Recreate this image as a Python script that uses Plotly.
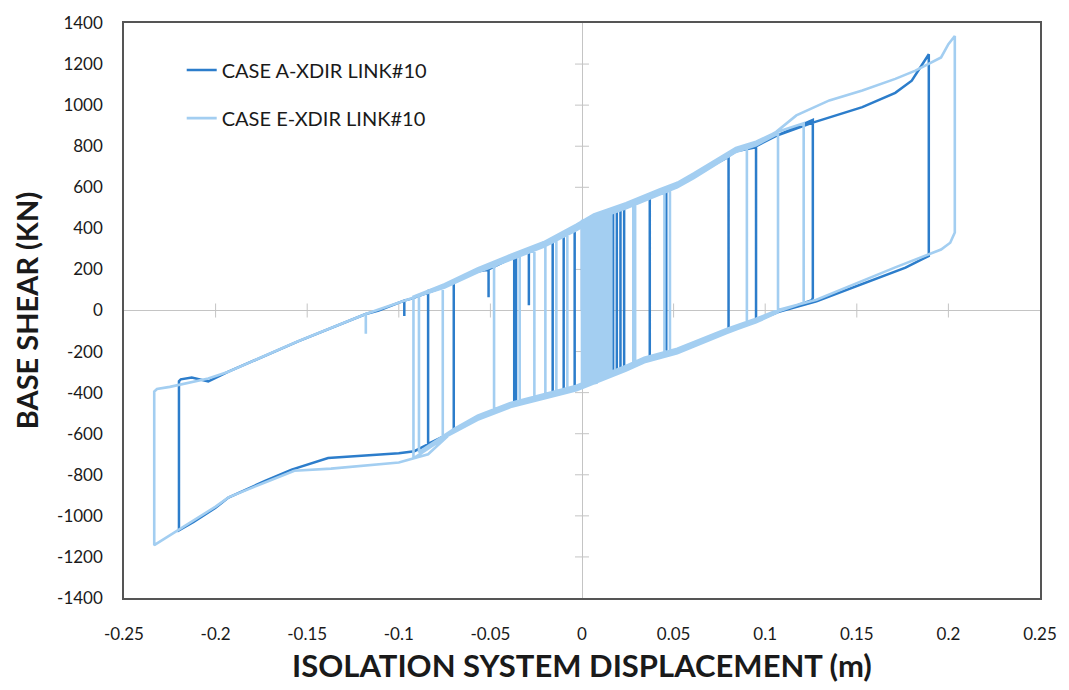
import plotly.graph_objects as go

# ---------------------------------------------------------------
# Hysteresis loops of isolator LINK#10, X direction
# displacement in m, base shear in kN, vertices in time order
# ---------------------------------------------------------------

CASE_A_NAME = "CASE A-XDIR LINK#10"
CASE_E_NAME = "CASE E-XDIR LINK#10"

case_a_disp = [
    0.000, 0.000,
    0.0065, 0.017, 0.017,
    -0.003, -0.004, -0.004,
    0.0065, 0.023, 0.023,
    -0.003, -0.010, -0.010,
    -0.003, 0.0065, 0.024, 0.037, 0.037,
    0.034, 0.024, -0.003, -0.016, -0.016,
    -0.003, 0.0065, 0.024, 0.042, 0.046, 0.046,
    0.034, 0.024, -0.003, -0.037, -0.037,
    -0.029, -0.029, -0.029, -0.021, -0.003, 0.0065, 0.024, 0.042, 0.052, 0.061, 0.073, 0.080, 0.080,
    0.052, 0.034, 0.024, -0.003, -0.039, -0.057, -0.070, -0.070,
    -0.057, -0.051, -0.051, -0.051, -0.039, -0.021, -0.003, 0.0065, 0.024, 0.042, 0.052, 0.061, 0.073,
    0.084, 0.095, 0.106, 0.126, 0.126, 0.1255,
    0.107, 0.095, 0.079, 0.052, 0.034, 0.024, -0.003, -0.039, -0.057, -0.070, -0.0915, -0.100, -0.1386,
    -0.1585, -0.173, -0.193, -0.200, -0.212, -0.220,
    -0.220, -0.219,
    -0.213, -0.204, -0.193, -0.173, -0.155, -0.118, -0.111, -0.097, -0.097, -0.097, -0.093, -0.075,
    -0.057, -0.039, -0.021, -0.003, 0.0065, 0.024, 0.042, 0.052, 0.061, 0.073, 0.084, 0.095, 0.106,
    0.126, 0.153, 0.171, 0.180, 0.1893,
    0.1893, 0.1855,
    0.1766, 0.128, 0.107, 0.095, 0.079, 0.052, 0.034, 0.024, -0.003, -0.039, -0.057, -0.070, -0.084,
    -0.084,
    -0.075, -0.057, -0.039, -0.021, -0.003, 0.0065, 0.024, 0.042, 0.052, 0.061, 0.073, 0.084, 0.095,
    0.095,
    0.079, 0.052, 0.034, 0.024, -0.003, -0.036, -0.036,
    -0.021, -0.003, 0.0065, 0.019, 0.021, 0.021,
    0.019, 0.0015, 0.0015,
    0.0065, 0.019, 0.019,
    0.003, 0.003,
]

case_a_shear = [
    0, 410,
    448, 485, -305,
    -378, -382, 395,
    450, 502, -287,
    -380, -395, 365,
    400, 450, 505, 552, -238,
    -245, -283, -380, -412, 338,
    400, 450, 505, 570, 584, -215,
    -245, -283, -380, -458, 258,
    288, 25, 288, 316, 400, 450, 505, 570, 605, 650, 715, 748, -98,
    -200, -245, -283, -380, -462, -525, -588, 142,
    190, 200, 65, 200, 253, 316, 400, 450, 505, 570, 605, 650, 715,
    775, 800, 850, 928, 62, 50,
    -8, -51, -100, -200, -245, -283, -380, -462, -525, -588, -685, -695, -718,
    -775, -830, -911, -960, -1030, -1071,
    -345, -335,
    -326, -345, -298, -220, -150, -17, 0, 48, -27, 48, 58, 117,
    190, 253, 316, 400, 450, 505, 570, 605, 650, 715, 775, 800, 850,
    915, 990, 1060, 1119, 1248,
    265, 249,
    209, 45, -8, -51, -100, -200, -245, -283, -380, -462, -525, -588, -650,
    95,
    117, 190, 253, 316, 400, 450, 505, 570, 605, 650, 715, 775, 795,
    -51,
    -100, -200, -245, -283, -380, -455, 262,
    316, 400, 450, 492, 498, -292,
    -298, -365, 430,
    450, 490, -298,
    -362, -40,
]

case_e_disp = [
    0.000, 0.000,
    0.0065, 0.008, 0.008,
    -0.003, -0.014, -0.014,
    -0.003, 0.0065, 0.015, 0.015,
    -0.003, -0.020, -0.020,
    -0.003, 0.0065, 0.024, 0.029, 0.029,
    0.024, -0.003, -0.026, -0.026,
    -0.021, -0.003, 0.0065, 0.024, 0.042, 0.045, 0.045,
    0.034, 0.024, -0.003, -0.039, -0.048, -0.048,
    -0.039, -0.021, -0.003, 0.0065, 0.024, 0.042, 0.052, 0.061, 0.073, 0.084, 0.090, 0.090,
    0.079, 0.052, 0.034, 0.024, -0.003, -0.039, -0.057, -0.070, -0.076, -0.076,
    -0.057, -0.039, -0.021, -0.003, 0.0065, 0.024, 0.042, 0.052, 0.061, 0.073, 0.084, 0.095, 0.107, 0.107,
    0.095, 0.079, 0.052, 0.034, 0.024, -0.003, -0.039, -0.057, -0.070, -0.092, -0.092,
    -0.075, -0.057, -0.039, -0.021, -0.003, 0.0065, 0.024, 0.042, 0.052, 0.061, 0.073, 0.084, 0.095,
    0.106, 0.121, 0.121,
    0.107, 0.095, 0.079, 0.052, 0.034, 0.024, -0.003, -0.039, -0.057, -0.070, -0.084, -0.100, -0.137,
    -0.157, -0.171, -0.193, -0.200, -0.220, -0.2335,
    -0.2335, -0.232,
    -0.225, -0.204, -0.193, -0.173, -0.155, -0.118, -0.118, -0.118, -0.111, -0.093, -0.075, -0.057,
    -0.039, -0.021, -0.003, 0.0065, 0.024, 0.042, 0.052, 0.061, 0.073, 0.084, 0.095, 0.106, 0.117,
    0.135, 0.153, 0.171, 0.182, 0.189, 0.196, 0.200, 0.2035,
    0.2035, 0.201, 0.196,
    0.171, 0.128, 0.107, 0.095, 0.079, 0.052, 0.034, 0.024, -0.003, -0.039, -0.057, -0.070, -0.089,
    -0.089,
    -0.075, -0.057, -0.039, -0.021, -0.003, 0.0065, 0.024, 0.042, 0.048, 0.048,
    0.034, 0.024, -0.003, -0.034, -0.034,
    -0.021, -0.003, 0.0065, 0.024, 0.028, 0.028,
    0.024, -0.003, -0.008, -0.008,
    -0.003, 0.0065, 0.016, 0.016,
    0.000, 0.000,
    0.015, 0.015,
    0.001, 0.001,
    0.014, 0.014,
    0.002, 0.002,
    0.013, 0.013,
    0.003, 0.003,
    0.012, 0.012,
    0.004, 0.004,
    0.011, 0.011,
    0.005, 0.005,
    0.010, 0.010,
    0.006, 0.006,
    0.009, 0.009,
    0.007, 0.007,
    0.008, 0.008,
]

case_e_shear = [
    0, 405,
    455, 460, -352,
    -375, -402, 352,
    410, 458, 482, -318,
    -384, -420, 325,
    395, 445, 510, 525, -262,
    -280, -376, -430, 300,
    322, 405, 455, 510, 575, 585, -218,
    -240, -280, -375, -458, -495, 212,
    268, 332, 418, 468, 522, 588, 622, 668, 732, 792, 807, -72,
    -110, -208, -252, -292, -388, -470, -532, -595, -622, 115,
    195, 252, 312, 396, 446, 500, 565, 600, 645, 712, 772, 805, 862, -8,
    -58, -108, -205, -250, -290, -385, -468, -528, -590, -720, 68,
    128, 205, 270, 332, 418, 468, 522, 588, 622, 668, 732, 792, 822,
    868, 912, 38,
    -5, -48, -98, -195, -240, -280, -375, -458, -520, -585, -700, -740, -770,
    -780, -830, -910, -955, -1066, -1143,
    -395, -382,
    -372, -331, -298, -220, -150, -17, -113, -17, 5, 60, 120, 195,
    258, 320, 405, 455, 510, 575, 610, 655, 720, 780, 815, 870, 950,
    1023, 1071, 1128, 1168, 1200, 1232, 1297, 1337,
    380, 330, 297,
    210, 52, 2, -40, -90, -186, -230, -270, -366, -450, -512, -578, -690,
    72,
    112, 186, 248, 310, 392, 442, 498, 562, 585, -205,
    -232, -272, -368, -440, 275,
    330, 414, 464, 518, 528, -262,
    -274, -368, -384, 392,
    412, 462, 490, -312,
    -366, 436,
    486, -316,
    -362, 440,
    482, -321,
    -358, 444,
    478, -326,
    -354, 447,
    475, -330,
    -350, 451,
    471, -334,
    -347, 455,
    467, -338,
    -343, 458,
    463, -341,
    -340, 460,
    462, 0,
]

assert len(case_a_disp) == len(case_a_shear)
assert len(case_e_disp) == len(case_e_shear)

X_TICKS = [-0.25, -0.2, -0.15, -0.1, -0.05, 0, 0.05, 0.1, 0.15, 0.2, 0.25]
X_TICK_TEXT = ["-0.25", "-0.2", "-0.15", "-0.1", "-0.05", "0", "0.05", "0.1", "0.15", "0.2", "0.25"]
Y_TICKS = [-1400, -1200, -1000, -800, -600, -400, -200, 0, 200, 400, 600, 800, 1000, 1200, 1400]
Y_TICK_TEXT = [str(v) for v in Y_TICKS]

COLOR_A = "#2C7DCB"
COLOR_E = "#A3CEF1"
FONT = "Lato"

fig = go.Figure()
fig.add_trace(go.Scatter(
    x=case_a_disp, y=case_a_shear, mode="lines", name=CASE_A_NAME,
    line=dict(color=COLOR_A, width=2.5), legendgroup="a",
))
fig.add_trace(go.Scatter(
    x=case_e_disp, y=case_e_shear, mode="lines", name=CASE_E_NAME,
    line=dict(color=COLOR_E, width=2.6), legendgroup="e",
))

# cross ticks along the zero axes
shapes = []
for t in X_TICKS:
    if t in (0, X_TICKS[0], X_TICKS[-1]):
        continue
    shapes.append(dict(type="line", xref="x", yref="y", ysizemode="pixel", yanchor=0,
                       x0=t, x1=t, y0=-7, y1=7, line=dict(color="#c4c4c4", width=1), layer="below"))
for t in Y_TICKS:
    if t in (0, Y_TICKS[0], Y_TICKS[-1]):
        continue
    shapes.append(dict(type="line", xref="x", yref="y", xsizemode="pixel", xanchor=0,
                       y0=t, y1=t, x0=-7, x1=7, line=dict(color="#c4c4c4", width=1), layer="below"))

fig.update_layout(
    width=1069, height=690,
    margin=dict(l=124, r=24, t=22, b=89),
    paper_bgcolor="white", plot_bgcolor="white",
    font=dict(family=FONT, color="#1a1a1a"),
    showlegend=True,
    legend=dict(x=0.063, y=0.952, xanchor="left", yanchor="top",
                bgcolor="rgba(0,0,0,0)", font=dict(size=20, color="#1a1a1a"),
                tracegroupgap=19, itemwidth=30),
    shapes=shapes,
)
fig.update_xaxes(
    range=[-0.25, 0.25], tickvals=X_TICKS, ticktext=X_TICK_TEXT,
    showgrid=False, zeroline=True, zerolinecolor="#c4c4c4", zerolinewidth=1,
    showline=True, mirror=True, linecolor="#555555", linewidth=1.5,
    ticks="", ticklabelstandoff=20, tickfont=dict(size=17, color="#1a1a1a"),
    title=dict(text="<b>ISOLATION SYSTEM DISPLACEMENT (m)</b>", font=dict(size=31, color="#1a1a1a"), standoff=12),
)
fig.update_yaxes(
    range=[-1400, 1400], tickvals=Y_TICKS, ticktext=Y_TICK_TEXT,
    showgrid=False, zeroline=True, zerolinecolor="#c4c4c4", zerolinewidth=1,
    showline=True, mirror=True, linecolor="#555555", linewidth=1.5,
    ticks="", ticklabelstandoff=16, tickfont=dict(size=17, color="#1a1a1a"),
    title=dict(text="<b>BASE SHEAR (KN)</b>", font=dict(size=29, color="#1a1a1a"), standoff=10),
)

fig.write_html("out.html")
